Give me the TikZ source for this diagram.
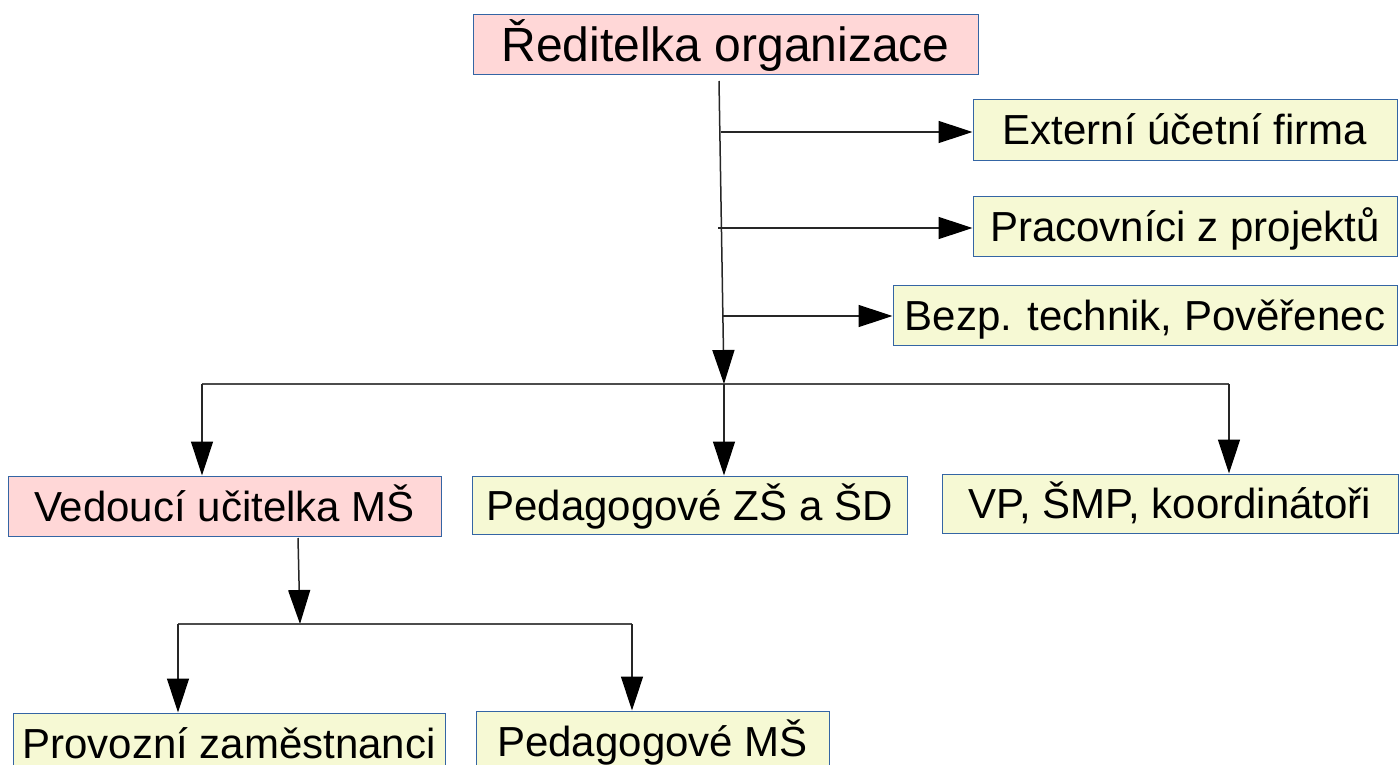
\documentclass[tikz,border=0pt]{standalone}
\usepackage{fontspec}
\setmainfont{Liberation Sans}
\usetikzlibrary{arrows.meta}
\definecolor{boxpink}{RGB}{255,215,215}
\definecolor{boxyellow}{RGB}{246,249,212}
\definecolor{boxline}{RGB}{52,101,164}
\tikzset{
  unit/.style={draw=boxline, line width=1pt, minimum height=60pt, inner sep=0pt,
    font=\fontsize{42}{48}\selectfont, text height=32pt, text depth=2pt},
  head/.style={unit, fill=boxpink},
  staff/.style={unit, fill=boxyellow},
  link/.style={line width=1.5pt, draw=black!85, -{Triangle[length=34pt,width=22pt,black]}},
  bar/.style={line width=1.5pt, draw=black!70},
}
\begin{document}
\begin{tikzpicture}[x=1pt,y=-1pt]
      \useasboundingbox (0,0) rectangle (1400,765);
      % boxes
      \node[head, minimum width=505pt, font=\fontsize{48}{56}\selectfont, text height=36pt] (dir) at (725.5,45) {Ředitelka organizace};
      \node[staff, minimum width=424pt] (ext) at (1185,130) {Externí účetní firma};
      \node[staff, minimum width=424pt] (proj) at (1185,226) {Pracovníci z projektů};
      \node[staff, minimum width=504pt] (bezp) at (1145,315) {Bezp. technik, Pověřenec};
      \node[head, minimum width=433pt] (ved) at (224.5,506) {Vedoucí učitelka MŠ};
      \node[staff, minimum width=435pt, minimum height=58pt] (zs) at (689.5,505) {Pedagogové ZŠ a ŠD};
      \node[staff, minimum width=456pt, minimum height=59pt] (vp) at (1170,503.5) {VP, ŠMP, koordinátoři};
      \node[staff, minimum width=432pt] (prov) at (229,743) {Provozní zaměstnanci};
      \node[staff, minimum width=353pt] (pedms) at (652.5,741) {Pedagogové MŠ};
      % junctions
      \coordinate (top) at (719,81);
      \coordinate (hub) at (724,384);
      \coordinate (e1) at (721,132);
      \coordinate (e2) at (718,228);
      \coordinate (e3) at (722,316);
      \coordinate (barL) at (202,384);
      \coordinate (barR) at (1229,384);
      \coordinate (vtop) at (298,538);
      \coordinate (sub) at (300,624);
      \coordinate (subL) at (178,624);
      \coordinate (subR) at (632,624);
      % connectors
      \draw[link] (top) to (hub);
      \draw[link] (e1) to (e1 -| ext.west);
      \draw[link] (e2) to (e2 -| proj.west);
      \draw[link] (e3) to (e3 -| bezp.west);
      \draw[bar] (barL) to (barR);
      \draw[link] (barL) to (ved.north -| barL);
      \draw[link] (hub) to (zs.north -| hub);
      \draw[link] (barR) to (vp.north -| barR);
      \draw[link] (vtop) to (sub);
      \draw[bar] (subL) to (subR);
      \draw[link] (subL) to (prov.north -| subL);
      \draw[link] (subR) to (pedms.north -| subR);
\end{tikzpicture}
\end{document}
